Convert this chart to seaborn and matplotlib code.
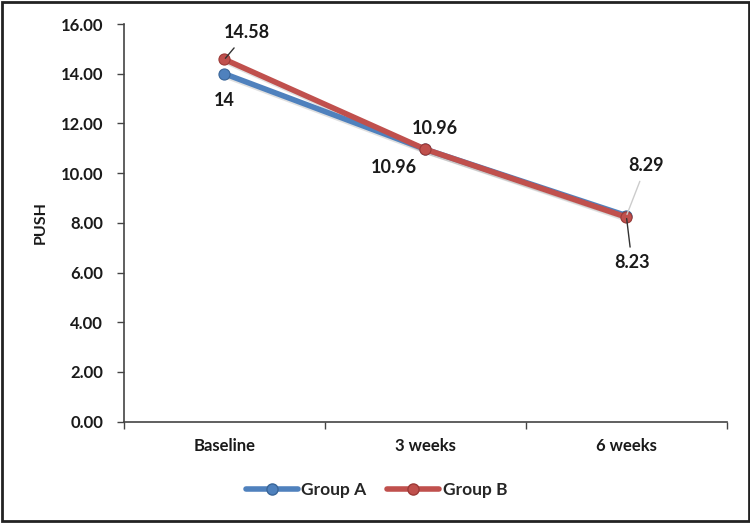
import matplotlib
matplotlib.use("Agg")
import matplotlib.pyplot as plt
from matplotlib.patches import Rectangle
from matplotlib.lines import Line2D
import seaborn as sns
import pandas as pd

categories = ["Baseline", "3 weeks", "6 weeks"]
group_a = [14.00, 10.96, 8.29]
group_b = [14.58, 10.96, 8.23]
y_ticks = [0, 2, 4, 6, 8, 10, 12, 14, 16]

df = pd.DataFrame({
    "Time": categories * 2,
    "PUSH": group_a + group_b,
    "Group": ["Group A"] * 3 + ["Group B"] * 3,
})

sns.set_theme(style="white")
plt.rcParams["font.family"] = ["Lato", "DejaVu Sans"]
plt.rcParams["font.weight"] = "bold"

fig = plt.figure(figsize=(7.5, 5.23), dpi=100)
ax = fig.add_axes([0.1653, 0.1937, 0.9693 - 0.1653, 0.954 - 0.1937])

palette = {"Group A": "#4F81BD", "Group B": "#C0504D"}
edge = {"Group A": "#3A6699", "Group B": "#9C3A37"}

# shadow layer (lines only)
sns.lineplot(data=df, x="Time", y="PUSH", hue="Group", palette={"Group A": "0.6", "Group B": "0.6"},
             linewidth=4, sort=False, ax=ax, legend=False, alpha=0.3)
for line in ax.lines:
    line.set_transform(line.get_transform() + matplotlib.transforms.ScaledTranslation(2/72, -2/72, fig.dpi_scale_trans))
n_shadow = len(ax.lines)

sns.lineplot(data=df, x="Time", y="PUSH", hue="Group", palette=palette,
             marker="o", markersize=8, linewidth=4, sort=False, ax=ax,
             legend=False, markeredgewidth=0.8)
for line, g in zip(ax.lines[n_shadow:], ["Group A", "Group B"]):
    line.set_markeredgecolor(edge[g])

ax.set_xlim(-0.5, 2.5)
ax.set_ylim(0, 16)
ax.set_yticks(y_ticks)
ax.set_yticklabels([f"{v:.2f}" for v in y_ticks], fontsize=12, fontweight="bold", color="#1a1a1a")
ax.set_xticks(range(len(categories)))
ax.set_xticklabels(categories, fontsize=12, fontweight="bold", color="#1a1a1a")
ax.tick_params(axis="x", length=0, pad=12)
ax.tick_params(axis="y", length=5, width=1, color="#444444", direction="out", left=True, pad=10)
ax.set_xticks([-0.5, 0.5, 1.5, 2.5], minor=True)
ax.tick_params(axis="x", which="minor", length=5, width=1, color="#444444", direction="out", bottom=True)
ax.set_xlabel("")
ax.set_ylabel("PUSH", fontsize=11.5, fontweight="bold", labelpad=9, color="#1a1a1a")
for s in ["top", "right"]:
    ax.spines[s].set_visible(False)
for s in ["left", "bottom"]:
    ax.spines[s].set_color("#444444")
    ax.spines[s].set_linewidth(1.2)

label_fs = 13
def lab(x, y, txt, dx, dy, line_color=None):
    kw = {}
    if line_color is not None:
        kw["arrowprops"] = dict(arrowstyle="-", color=line_color, lw=1, shrinkA=3, shrinkB=1)
    ax.annotate(txt, xy=(x, y), xytext=(dx, dy), textcoords="offset points",
                ha="center", va="center", fontsize=label_fs, fontweight="bold",
                color="#1a1a1a", **kw)

lab(0, group_b[0], f"{group_b[0]:.2f}", 16, 19, "#333333")
lab(0, group_a[0], f"{group_a[0]:g}", 0, -19)
lab(1, group_b[1], f"{group_b[1]:.2f}", 7, 15)
lab(1, group_a[1], f"{group_a[1]:.2f}", -23, -13)
lab(2, group_a[2], f"{group_a[2]:.2f}", 14, 36, "#cccccc")
lab(2, group_b[2], f"{group_b[2]:.2f}", 4, -33, "#333333")

handles = [Line2D([], [], color=palette[g], lw=4, marker="o", markersize=8,
                  markeredgecolor=edge[g]) for g in ["Group A", "Group B"]]
fig.legend(handles, ["Group A", "Group B"], loc="center", bbox_to_anchor=(0.502, 0.063),
           ncol=2, frameon=False, handlelength=3, columnspacing=1.2, handletextpad=0.2,
           prop={"weight": "bold", "size": 12.5})

fig.patches.append(Rectangle((0.002, 0.003), 0.996, 0.994, transform=fig.transFigure,
                             fill=False, edgecolor="#222222", linewidth=2))

fig.savefig("out.png", dpi=100)
